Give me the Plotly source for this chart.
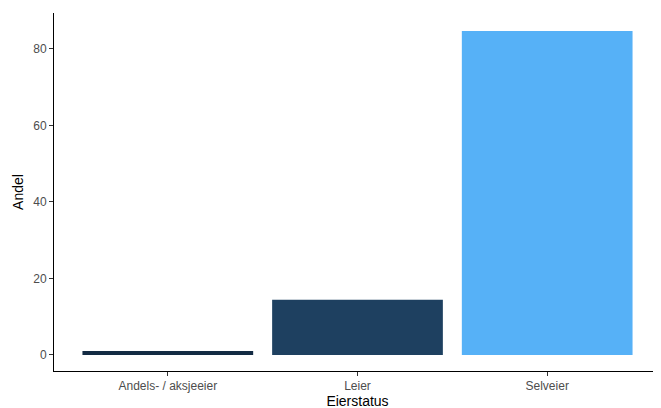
import plotly.graph_objects as go

# Data
categories = ["Andels- / aksjeeier", "Leier", "Selveier"]
andel = [1.0, 14.4, 84.7]

fig = go.Figure()
fig.add_trace(go.Bar(
    x=categories, y=andel, width=0.9,
    marker=dict(color=andel, colorscale=[[0, "#132B43"], [1, "#56B1F7"]],
                cmin=min(andel), cmax=max(andel), showscale=False, line=dict(width=0)),
))

fig.update_layout(
    width=661, height=408,
    margin=dict(l=46, r=8, t=5, b=45, autoexpand=False),
    plot_bgcolor="white", paper_bgcolor="white",
    font=dict(family="Liberation Sans, Arial", color="black"),
    showlegend=False, bargap=0.1,
)
fig.update_xaxes(
    range=[-0.6, 2.6], showline=True, linecolor="black", linewidth=1,
    ticks="outside", ticklen=4, tickcolor="#333333", showgrid=False, automargin=False,
    tickfont=dict(size=12, color="#4d4d4d"),
    title=dict(text="Eierstatus", font=dict(size=14), standoff=2),
)
fig.update_yaxes(
    range=[-4.2, 89.4], showline=True, linecolor="black", linewidth=1,
    ticks="outside", ticklen=4, tickcolor="#333333", showgrid=False, zeroline=False,
    tickvals=[0, 20, 40, 60, 80], automargin=False,
    tickfont=dict(size=12, color="#4d4d4d"),
    title=dict(text="Andel", font=dict(size=14), standoff=6),
)

fig.write_html("out.html")
